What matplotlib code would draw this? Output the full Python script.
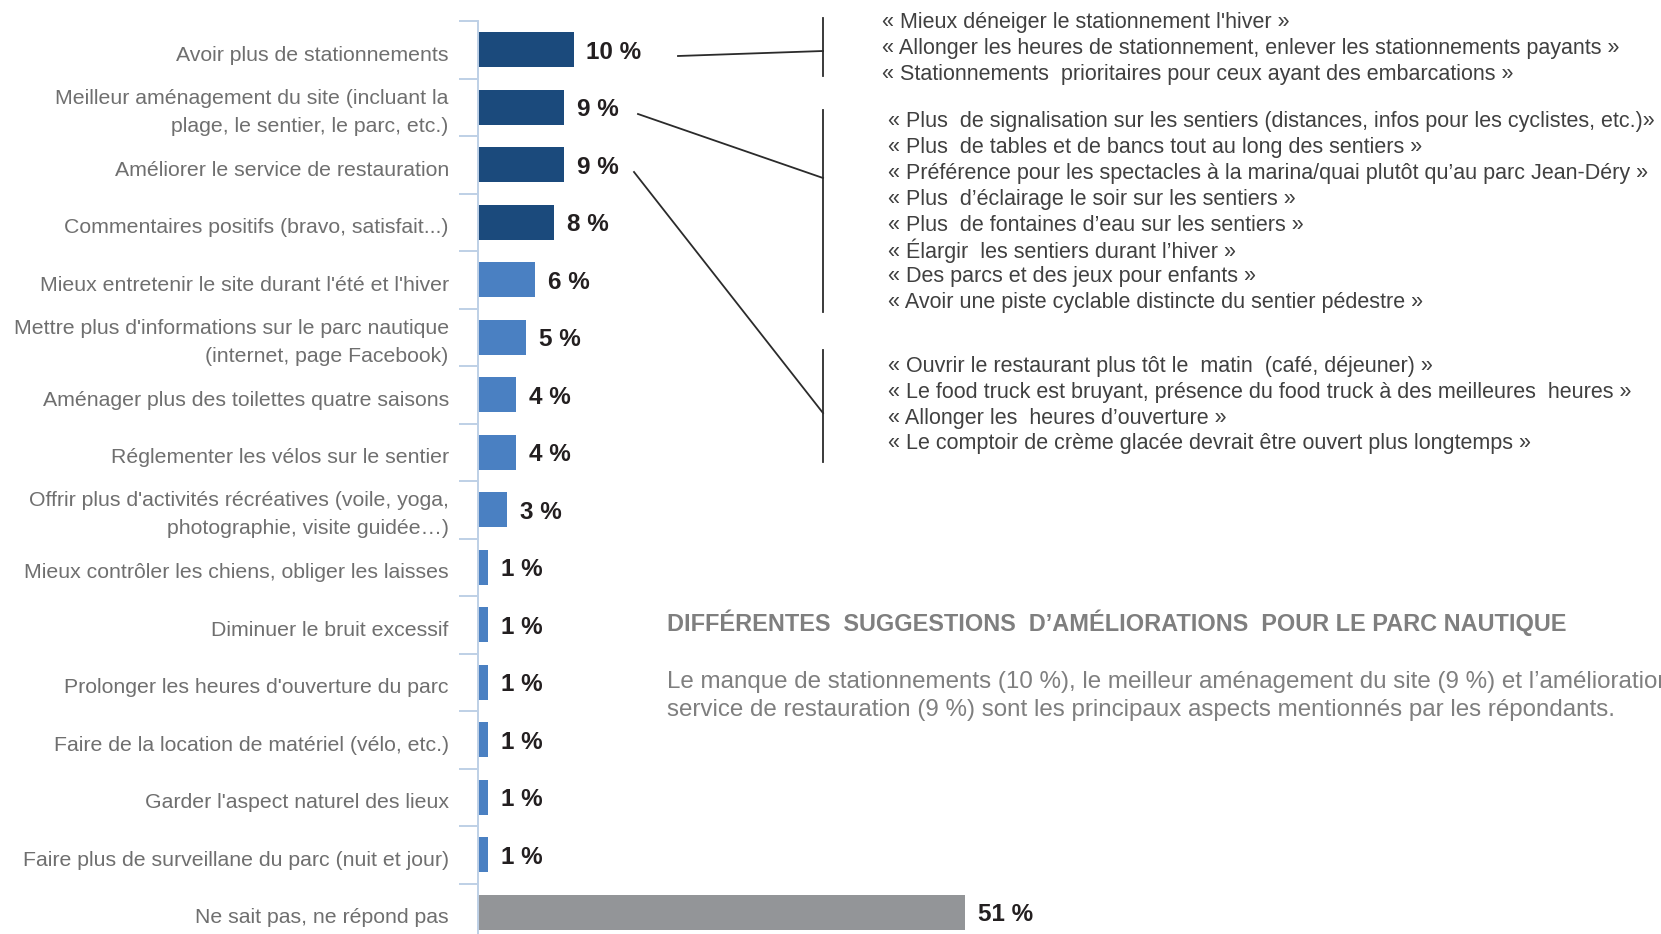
import matplotlib
matplotlib.use("Agg")
import matplotlib.pyplot as plt
import matplotlib.transforms as mtransforms
from matplotlib import font_manager

# suggestions (ordre d'affichage, du haut vers le bas)
categories = [
    "Avoir plus de stationnements",
    "Meilleur aménagement du site (incluant la\nplage, le sentier, le parc, etc.)",
    "Améliorer le service de restauration",
    "Commentaires positifs (bravo, satisfait...)",
    "Mieux entretenir le site durant l'été et l'hiver",
    "Mettre plus d'informations sur le parc nautique\n(internet, page Facebook)",
    "Aménager plus des toilettes quatre saisons",
    "Réglementer les vélos sur le sentier",
    "Offrir plus d'activités récréatives (voile, yoga,\nphotographie, visite guidée…)",
    "Mieux contrôler les chiens, obliger les laisses",
    "Diminuer le bruit excessif",
    "Prolonger les heures d'ouverture du parc",
    "Faire de la location de matériel (vélo, etc.)",
    "Garder l'aspect naturel des lieux",
    "Faire plus de surveillane du parc (nuit et jour)",
    "Ne sait pas, ne répond pas",
]
pourcentages = [10, 9, 9, 8, 6, 5, 4, 4, 3, 1, 1, 1, 1, 1, 1, 51]
groupes = ["top"] * 4 + ["autre"] * 11 + ["nsp"]

citations_stationnement = [
    "« Mieux déneiger le stationnement l'hiver »",
    "« Allonger les heures de stationnement, enlever les stationnements payants »",
    "« Stationnements  prioritaires pour ceux ayant des embarcations »",
]
citations_site = [
    "« Plus  de signalisation sur les sentiers (distances, infos pour les cyclistes, etc.)»",
    "« Plus  de tables et de bancs tout au long des sentiers »",
    "« Préférence pour les spectacles à la marina/quai plutôt qu’au parc Jean-Déry »",
    "« Plus  d’éclairage le soir sur les sentiers »",
    "« Plus  de fontaines d’eau sur les sentiers »",
    "« Élargir  les sentiers durant l’hiver »",
    "« Des parcs et des jeux pour enfants »",
    "« Avoir une piste cyclable distincte du sentier pédestre »",
]
citations_resto = [
    "« Ouvrir le restaurant plus tôt le  matin  (café, déjeuner) »",
    "« Le food truck est bruyant, présence du food truck à des meilleures  heures »",
    "« Allonger les  heures d’ouverture »",
    "« Le comptoir de crème glacée devrait être ouvert plus longtemps »",
]

titre = "DIFFÉRENTES  SUGGESTIONS  D’AMÉLIORATIONS  POUR LE PARC NAUTIQUE"
resume = ("Le manque de stationnements (10 %), le meilleur aménagement du site (9 %) et l’amélioration du\n"
          "service de restauration (9 %) sont les principaux aspects mentionnés par les répondants.")

couleurs = {"top": "#1b4a7c", "autre": "#4a80c2", "nsp": "#939598"}

noms = {f.name for f in font_manager.fontManager.ttflist}
etroite = "Liberation Sans Narrow" if "Liberation Sans Narrow" in noms else "Liberation Sans"
plt.rcParams["font.family"] = ["Liberation Sans", "DejaVu Sans"]

W, H = 1661, 934
fig = plt.figure(figsize=(W / 100, H / 100), dpi=100)

# axe des barres : 16 catégories de 57.5 px, 1 % = 9.55 px
x0, y_haut = 478, 21
pas = 57.5
ax = fig.add_axes([x0 / W, 1 - (y_haut + 16 * pas) / H, (W - x0) / W, 16 * pas / H])
pos = list(range(len(categories)))
ax.barh(pos, pourcentages, height=0.61, color=[couleurs[g] for g in groupes])
ax.set_xlim(0, (W - x0) / 9.55)
ax.set_ylim(15.5, -0.5)

for p, v in zip(pos, pourcentages):
    ax.annotate(f"{v} %", xy=(v, p), xytext=(13, -2.5), textcoords="offset pixels",
                va="center", ha="left", fontsize=17.5, fontweight="bold", color="#231f20")

ax.set_yticks(pos)
ax.set_yticklabels(categories, fontsize=15.3, color="#6f6f6f", linespacing=1.6)
ax.set_yticks([p - 0.5 for p in pos] + [15.5], minor=True)
ax.tick_params(axis="y", which="major", length=0, pad=21)
ax.tick_params(axis="y", which="minor", length=14, width=1.4, color="#bed0e6", direction="out")
ax.set_xticks([])
for cote in ["top", "right", "bottom"]:
    ax.spines[cote].set_visible(False)
ax.spines["left"].set_color("#bed0e6")
ax.spines["left"].set_linewidth(1.4)

# libellés sur une ligne un peu plus bas, ceux sur deux lignes un peu plus haut
for lbl in ax.get_yticklabels():
    dy = 1.5 if "\n" in lbl.get_text() else -3.5
    decal = mtransforms.ScaledTranslation(0, dy / 100, fig.dpi_scale_trans)
    lbl.set_transform(lbl.get_transform() + decal)

# zone des commentaires, en coordonnées pixels
ov = fig.add_axes([0, 0, 1, 1], facecolor="none")
ov.set_xlim(0, W)
ov.set_ylim(H, 0)
ov.axis("off")

trait = dict(color="#2b2b2b", lw=1.3)
ov.plot([823, 823], [18, 76], **trait)
ov.plot([678, 823], [56, 51], **trait)
ov.plot([823, 823], [110, 312], **trait)
ov.plot([638, 823], [114, 178], **trait)
ov.plot([823, 823], [350, 462], **trait)
ov.plot([634, 823], [172, 413], **trait)

def bloc(lignes, x, y, dy):
    for i, t in enumerate(lignes):
        ov.text(x, y + i * dy, t, va="center", ha="left", fontsize=15.5,
                family=[etroite, "DejaVu Sans"], color="#404040")

bloc(citations_stationnement, 882, 22.5, 25.8)
bloc(citations_site, 888, 122, 25.8)
bloc(citations_resto, 888, 366.5, 25.8)

ov.text(667, 623, titre, va="center", ha="left", fontsize=16.9, fontweight="bold",
        family=[etroite, "DejaVu Sans"], color="#7f7f7f")
ov.text(667, 696, resume, va="center", ha="left", fontsize=17.4, linespacing=1.4,
        family=[etroite, "DejaVu Sans"], color="#7f7f7f")

fig.savefig("out.png", dpi=100)
